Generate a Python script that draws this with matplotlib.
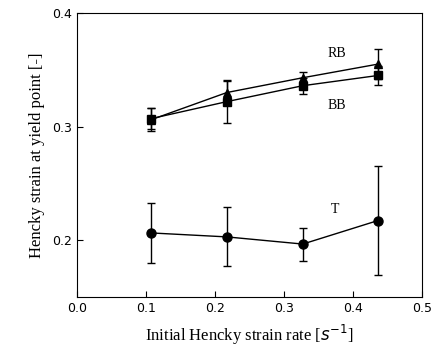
import matplotlib

matplotlib.use("Agg")
import matplotlib.pyplot as plt

# strain rate [1/s]
rate = [0.107, 0.217, 0.327, 0.436]

rb = [0.306, 0.330, 0.343, 0.355]
rb_err = [0.010, 0.010, 0.005, 0.013]
bb = [0.307, 0.322, 0.336, 0.345]
bb_err = [0.009, 0.019, 0.007, 0.008]
t = [0.2065, 0.203, 0.1967, 0.2174]
t_err = [0.0265, 0.026, 0.0145, 0.048]

plt.rcParams.update({"font.family": ["Liberation Serif", "DejaVu Serif"]})

fig = plt.figure(figsize=(4.33, 3.5), dpi=100)
ax = fig.add_axes([0.178, 0.151, 0.797, 0.812])

ekw = dict(color="black", lw=1.0, elinewidth=1.0, capsize=3, capthick=1.0)
ax.errorbar(rate, rb, yerr=rb_err, marker="^", ms=5.5, **ekw)
ax.errorbar(rate, bb, yerr=bb_err, marker="s", ms=5.5, **ekw)
ax.errorbar(rate, t, yerr=t_err, marker="o", ms=6.5, **ekw)

ax.text(0.376, 0.364, "RB", fontsize=10, ha="center", va="center")
ax.text(0.376, 0.319, "BB", fontsize=10, ha="center", va="center")
ax.text(0.374, 0.227, "T", fontsize=10, ha="center", va="center")

ax.set_xlim(0, 0.5)
ax.set_ylim(0.15, 0.4)
ax.set_xticks([0.0, 0.1, 0.2, 0.3, 0.4, 0.5])
ax.set_yticks([0.2, 0.3, 0.4])
ax.tick_params(direction="in", length=4, labelsize=9)
for lab in ax.get_xticklabels() + ax.get_yticklabels():
    lab.set_family("DejaVu Sans")
ax.set_xlabel("Initial Hencky strain rate [$s^{-1}$]", fontsize=12, labelpad=6)
ax.set_ylabel("Hencky strain at yield point [-]", fontsize=12, labelpad=5)

fig.savefig("out.png", dpi=100)
